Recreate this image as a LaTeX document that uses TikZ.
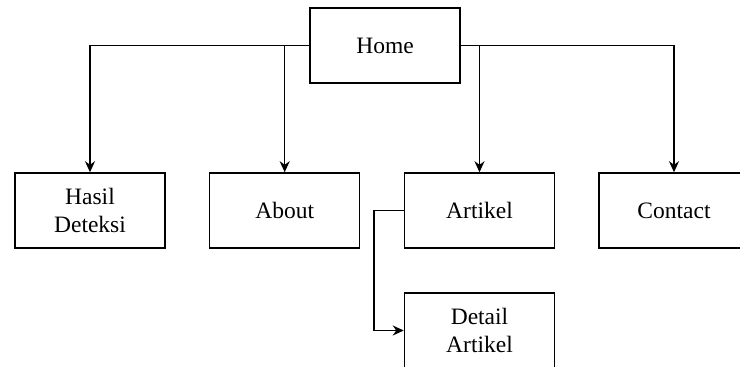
\documentclass[tikz,border=0pt]{standalone}
\usepackage{fontspec}
\setmainfont{Liberation Serif}
\usetikzlibrary{arrows.meta}
\begin{document}
\begin{tikzpicture}[x=1pt,y=-1pt,
  pagebox/.style={draw, line width=1.5pt, minimum width=150pt, minimum height=75pt,
    inner sep=0pt, align=center, font=\fontsize{23.5}{27.5}\selectfont},
  link/.style={line width=1.5pt, -{Stealth[length=11pt,width=10pt,inset=3.5pt]}}]
\useasboundingbox (0,0) rectangle (740,367);
\clip (0,0) rectangle (740,367);
% site pages
\node[pagebox] (home)    at (385,45.5)    {Home};
\node[pagebox] (hasil)   at (90,210.5)    {Hasil\\Deteksi};
\node[pagebox] (about)   at (284.7,210.5) {About};
\node[pagebox] (artikel) at (479.5,210.5) {Artikel};
\node[pagebox] (contact) at (674,210.5)   {Contact};
\node[pagebox] (detail)  at (479.5,330.5) {Detail\\Artikel};
% navigation links
\draw[link] (home.west) -| (hasil.north);
\draw[link] (home.west -| about.north) -- (about.north);
\draw[link] (home.east) -| (contact.north);
\draw[link] (home.east -| artikel.north) -- (artikel.north);
\coordinate (bend) at ([xshift=-30pt]artikel.west);
\draw[link] (artikel.west) -- (bend) |- (detail.west);
\end{tikzpicture}
\end{document}
